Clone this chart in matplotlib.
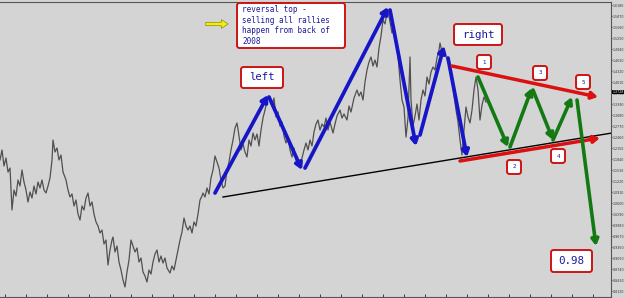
import matplotlib.pyplot as plt
from matplotlib.patches import FancyBboxPatch, FancyArrowPatch

# weekly closes (bar index, price)
weeks = [0, 2, 4, 6, 8, 10, 12, 14, 16, 18, 20, 22, 24, 26, 28, 30, 32, 34, 36, 38,
         40, 42, 44, 46, 48, 50, 52, 53, 55, 57, 59, 61, 63, 66, 68, 70, 72, 74, 76, 78,
         80, 82, 84, 86, 88, 90, 92, 94, 96, 98, 100, 102, 104, 106, 108, 110, 112, 113, 115, 117,
         119, 121, 123, 125, 127, 129, 131, 133, 135, 137, 139, 141, 143, 145, 147, 149, 151, 153, 155, 157,
         159, 161, 163, 165, 167, 170, 172, 174, 176, 178, 180, 182, 184, 186, 188, 190, 192, 194, 196, 198,
         200, 202, 203, 205, 207, 209, 211, 213, 215, 217, 219, 221, 223, 225, 227, 229, 231, 233, 235, 237,
         239, 241, 243, 245, 247, 249, 251, 253, 255, 257, 259, 261, 263, 265, 268, 270, 272, 274, 276, 278,
         280, 282, 284, 286, 288, 290, 292, 294, 296, 298, 300, 302, 304, 306, 308, 310, 312, 314, 316, 318,
         320, 322, 324, 326, 328, 330, 333, 335, 337, 340, 342, 344, 347, 349, 351, 354, 357, 359, 361, 363,
         365, 367, 369, 371, 373, 375, 377, 379, 381, 383, 385, 387, 388, 390, 392, 394, 396, 398, 400, 402,
         404, 406, 408, 410, 411, 413, 415, 417, 419, 421, 423, 425, 427, 429, 431, 433, 435, 437, 439, 440,
         442, 444, 446, 448, 450, 452, 454, 456, 458, 460, 462, 464, 466, 468, 470, 472, 474, 476, 478, 480,
         482, 484, 486]
closes = [1.1812, 1.2094, 1.1643, 1.1868, 1.1474, 1.1586, 1.0403, 1.0966, 1.0797, 1.1248,
          1.1079, 1.1530, 1.1192, 1.0966, 1.0628, 1.0910, 1.0741, 1.1079, 1.0854, 1.1192,
          1.1023, 1.1248, 1.0966, 1.0882, 1.1079, 1.1305, 1.1812, 1.2376, 1.2037, 1.2150,
          1.1812, 1.1953, 1.1474, 1.1248, 1.0966, 1.0769, 1.0854, 1.0516, 1.0685, 1.0290,
          1.0121, 1.0516, 1.0403, 1.0741, 1.0882, 1.0516, 1.0628, 1.0290, 1.0065, 0.9952,
          0.9755, 0.9839, 0.9445, 0.9557, 0.8853, 0.9275, 0.9557, 0.9642, 0.9219, 0.9388,
          0.8937, 0.8712, 0.8430, 0.8233, 0.8655, 0.8994, 0.9557, 0.9388, 0.9219, 0.9332,
          0.8937, 0.9050, 0.8655, 0.8543, 0.8374, 0.8712, 0.8599, 0.8937, 0.9163, 0.9275,
          0.8937, 0.9106, 0.8909, 0.9050, 0.8768, 0.8627, 0.8825, 0.8712, 0.8994, 0.9275,
          0.9557, 0.9783, 1.0177, 0.9952, 0.9839, 0.9952, 0.9755, 1.0065, 0.9952, 1.0290,
          1.0685, 1.0797, 1.0882, 1.0769, 1.1023, 1.0854, 1.1305, 1.1530, 1.1925, 1.1756,
          1.1586, 1.1248, 1.1023, 1.1079, 1.1530, 1.1756, 1.2094, 1.2376, 1.2714, 1.2855,
          1.2488, 1.2094, 1.2263, 1.2037, 1.1896, 1.2376, 1.2206, 1.2573, 1.2376, 1.2545,
          1.2206, 1.2657, 1.2996, 1.3221, 1.3587, 1.3503, 1.3334, 1.3559, 1.3024, 1.3165,
          1.2770, 1.2883, 1.2488, 1.2291, 1.2432, 1.2094, 1.1896, 1.2150, 1.1812, 1.1699,
          1.1615, 1.1868, 1.2094, 1.2291, 1.2094, 1.2376, 1.2206, 1.2601, 1.2826, 1.2939,
          1.2657, 1.2826, 1.2742, 1.2996, 1.2657, 1.2883, 1.2573, 1.2826, 1.3052, 1.3221,
          1.2996, 1.3108, 1.2939, 1.3334, 1.3165, 1.3559, 1.3785, 1.3616, 1.3728, 1.3503,
          1.4010, 1.4348, 1.4574, 1.4715, 1.4461, 1.4630, 1.4433, 1.4968, 1.5306, 1.5757,
          1.5645, 1.5983, 1.6039, 1.5701, 1.5391, 1.5532, 1.5194, 1.4743, 1.4066, 1.3503,
          1.3306, 1.2460, 1.2996, 1.4715, 1.3503, 1.2770, 1.3052, 1.3390, 1.2939, 1.3503,
          1.3785, 1.3616, 1.4151, 1.3954, 1.4292, 1.4433, 1.4348, 1.4686, 1.4912, 1.5109,
          1.4856, 1.4968, 1.4743, 1.4574, 1.4348, 1.4010, 1.3644, 1.3221, 1.2883, 1.2376,
          1.1953, 1.2657, 1.3306, 1.3024, 1.2855, 1.3221, 1.3785, 1.4151, 1.3785, 1.2939,
          1.3362, 1.3587, 1.3446]

last_close = 1.3728

price_ticks = [1.6180, 1.5870, 1.5560, 1.5250, 1.4940, 1.4630, 1.4320, 1.4010, 1.3700,
               1.3390, 1.3080, 1.2770, 1.2460, 1.2150, 1.1840, 1.1530, 1.1220, 1.0910,
               1.0600, 1.0290, 0.9980, 0.9670, 0.9360, 0.9050, 0.8740, 0.8430, 0.8120]

# hand-drawn analysis legs: (start bar, start price, end bar, end price)
blue_legs = [(215, 1.0882, 268, 1.3644),
             (269, 1.3587, 302, 1.1530),
             (305, 1.1586, 388, 1.6124),
             (390, 1.6039, 416, 1.2206),
             (420, 1.2516, 444, 1.5025),
             (448, 1.4686, 467, 1.1896)]
red_legs = [(452, 1.4461, 598, 1.3587),
            (460, 1.1784, 600, 1.2432)]
green_legs = [(478, 1.4151, 508, 1.2178),
              (510, 1.2178, 532, 1.3841),
              (533, 1.3785, 553, 1.2376),
              (553, 1.2376, 572, 1.3587),
              (577, 1.3503, 596, 0.9388)]
neckline = (223, 1.0769, 612, 1.2573)

W, H = 625, 298
BG = "#d4d4d4"
BOX_RED = "#cc1414"
TXT_BLUE = "#1a1a9a"
YLO, YHI = 0.7951, 1.6265

fig = plt.figure(figsize=(W / 100, H / 100), dpi=100, facecolor=BG)
ax = fig.add_axes([0, 1 / H, 611 / W, 295 / H], facecolor=BG)

ax.plot(weeks, closes, color="#505050", lw=0.9, zorder=2)
ax.plot([neckline[0], neckline[2]], [neckline[1], neckline[3]], color="black", lw=1.0, zorder=3)


def leg(seg, color, lw):
    x0, y0, x1, y1 = seg
    ax.annotate("", xy=(x1, y1), xytext=(x0, y0),
                arrowprops=dict(arrowstyle="-|>,head_length=0.6,head_width=0.35", color=color,
                                lw=lw, mutation_scale=6, shrinkA=0, shrinkB=0),
                zorder=5)


for seg in blue_legs:
    leg(seg, "#1616c8", 2.7)
for seg in red_legs:
    leg(seg, "#dc1010", 2.5)
for seg in green_legs:
    leg(seg, "#137a13", 2.6)

ax.set_xlim(0, 611)
ax.set_ylim(YLO, YHI)
ax.yaxis.tick_right()
ax.set_yticks(price_ticks)
ax.set_yticklabels([f"{v:.4f}" for v in price_ticks])
ax.tick_params(axis="y", labelsize=2.3, labelcolor="#333333", length=1, width=0.5, pad=0.4)
ax.set_xticks(range(5, 611, 21))
ax.set_xticklabels([])
ax.tick_params(axis="x", length=2, width=0.5, direction="in")
ax.spines["left"].set_visible(False)
for s in ("right", "top", "bottom"):
    ax.spines[s].set_color("#555555")
    ax.spines[s].set_linewidth(0.8)

# current price marker
ax.text(1.002, (last_close - YLO) / (YHI - YLO), f"{last_close:.4f}",
        transform=ax.transAxes, fontsize=2.3, color="white", va="center", ha="left",
        bbox=dict(boxstyle="square,pad=0.1", facecolor="black", edgecolor="none"))


def note(left, top, right, bottom, lines, size, tx=None, ty=None, ha="center"):
    box = FancyBboxPatch((left / 100, (H - bottom) / 100), (right - left) / 100, (bottom - top) / 100,
                         boxstyle="round,pad=0,rounding_size=0.025", transform=fig.dpi_scale_trans,
                         facecolor="white", edgecolor=BOX_RED, linewidth=1.4, zorder=10)
    fig.add_artist(box)
    if tx is None:
        tx, ty = (left + right) / 2, (top + bottom) / 2
    fig.text(tx / 100, (H - ty) / 100, lines, transform=fig.dpi_scale_trans,
             family="DejaVu Sans Mono", fontsize=size, color=TXT_BLUE,
             ha=ha, va="center", linespacing=1.25, zorder=11)


note(237, 3, 345, 48, "reversal top -\nselling all rallies\nhappen from back of\n2008",
     5.5, tx=242, ty=25.5, ha="left")
note(241, 67, 283, 88, "left", 7.6)
note(454, 24, 502, 45, "right", 7.8)
note(551, 250, 592, 272, "0.98", 7.8)
for lab, cx, cy in [("1", 484, 62), ("3", 540, 73), ("5", 583, 82), ("2", 514, 167), ("4", 558, 156)]:
    note(cx - 7, cy - 7, cx + 7, cy + 7, lab, 4.2)

# yellow pointer towards the comment box
fig.add_artist(FancyArrowPatch(
    (203 / 100, (H - 24) / 100), (231 / 100, (H - 24) / 100), transform=fig.dpi_scale_trans,
    arrowstyle="simple,head_length=0.7,head_width=0.9,tail_width=0.35", mutation_scale=7,
    facecolor="#f0f000", edgecolor="#8a8a20", linewidth=0.5, zorder=10))

fig.savefig("out.png", dpi=100, facecolor=BG)
